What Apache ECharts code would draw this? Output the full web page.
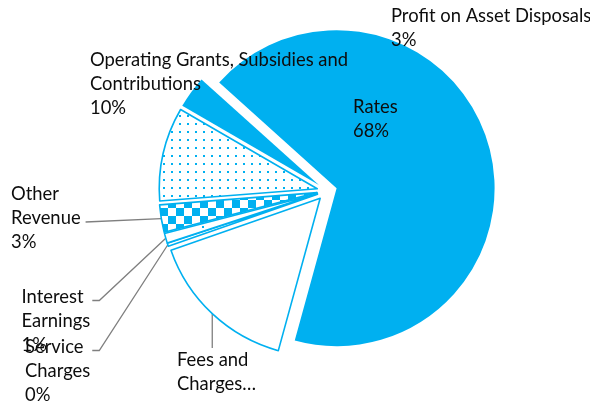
<!DOCTYPE html>
<html><head><meta charset="utf-8">
<script src="https://cdn.jsdelivr.net/npm/echarts@6/dist/echarts.min.js"></script>
<style>html,body{margin:0;padding:0;background:#fff}#c{width:590px;height:406px}</style>
</head><body><div id="c"></div>
<script>
// ---- data ----
const categories = ['Rates', 'Fees and Charges', 'Service Charges', 'Interest Earnings', 'Other Revenue', 'Operating Grants, Subsidies and Contributions', 'Profit on Asset Disposals'];
const values = [67.6, 15.4, 0.3, 1.0, 2.8, 9.6, 3.3];
const labelNames = ['Rates', 'Fees and\nCharges…', 'Service\nCharges', 'Interest\nEarnings', 'Other\nRevenue', 'Operating Grants, Subsidies and\nContributions', 'Profit on Asset Disposals'];
const showPercent = [true, false, true, true, true, true, true];

// ---- styling / layout ----
const BLUE = '#00B0F0';
const CENTER = [327, 191], RADIUS = 158, START = 138, EXPLODE = 10;
const labelPos = [[353, 95], [177, 348], [25, 335.5], [21.5, 285.5], [11, 182], [90, 48], [391, 4.5]];
const leader = ['none', 'top', 'right', 'right', 'right', 'none', 'none'];

function makeCanvas(w, h, draw) {
  const c = document.createElement('canvas'); c.width = w; c.height = h;
  const g = c.getContext('2d'); g.fillStyle = '#fff'; g.fillRect(0, 0, w, h);
  g.fillStyle = BLUE; draw(g); return c;
}
const dots = makeCanvas(8, 8, g => g.fillRect(3, 3, 2, 2));
const checker = makeCanvas(16, 16, g => { g.fillRect(0, 0, 8, 8); g.fillRect(8, 8, 8, 8); });
const sparse = makeCanvas(24, 24, g => g.fillRect(10, 10, 2, 2));

const fills = [BLUE, '#fff', {image: sparse, repeat: 'repeat'}, {image: sparse, repeat: 'repeat'},
  {image: checker, repeat: 'repeat'}, {image: dots, repeat: 'repeat'}, BLUE];
const outlined = [false, true, true, true, true, true, false];

const total = values.reduce((a, b) => a + b, 0);
let cum = 0;
const series = categories.map((_, k) => {
  const midDeg = (90 - START) + 360 * (cum + values[k] / 2) / total; // clockwise from 12 o'clock
  cum += values[k];
  const a = midDeg * Math.PI / 180;
  const center = [CENTER[0] + EXPLODE * Math.sin(a), CENTER[1] - EXPLODE * Math.cos(a)];
  return {
    type: 'pie',
    center, radius: RADIUS, startAngle: START, clockwise: true,
    avoidLabelOverlap: false, silent: true,
    z: k === 0 ? 1 : 2,
    data: categories.map((name, i) => ({
      name, value: values[i],
      itemStyle: i === k
        ? {color: fills[i], borderColor: outlined[i] ? BLUE : '#fff', borderWidth: outlined[i] ? 1.6 : 0}
        : {color: 'rgba(0,0,0,0)', borderWidth: 0},
      label: {show: i === k, position: i === 0 ? 'inside' : 'outside'},
      labelLine: {show: i === k && leader[i] !== 'none'}
    })),
    label: {
      color: '#0d0d0d', fontFamily: 'Lato', fontSize: 18.4, lineHeight: 24, align: 'left',
      formatter: p => labelNames[p.dataIndex] + (showPercent[p.dataIndex] ? '\n' + Math.round(p.percent) + '%' : '')
    },
    labelLine: {lineStyle: {color: '#7f7f7f', width: 1.3}},
    emphasis: {disabled: true},
    labelLayout: params => {
      const i = params.dataIndex;
      if (i !== k) return {};
      const [x, y] = labelPos[i];
      const out = {x, y, align: 'left', verticalAlign: 'top'};
      const p0 = params.labelLinePoints && params.labelLinePoints[0];
      if (p0 && leader[i] !== 'none') {
        const w = params.labelRect.width;
        if (leader[i] === 'top') {
          out.labelLinePoints = [p0, [p0[0], y], [p0[0], y]];
        } else {
          const ay = i === 4 ? y + 40 : y + 15;
          const ax = x + w + (i === 4 ? 5 : 2);
          out.labelLinePoints = [p0, [ax + (i === 4 ? 0 : 7), ay], [ax, ay]];
        }
      }
      return out;
    }
  };
});

const chart = echarts.init(document.getElementById('c'), null, {renderer: 'canvas'});
chart.setOption({animation: false, backgroundColor: '#fff', tooltip: {show: false}, series});
</script></body></html>
